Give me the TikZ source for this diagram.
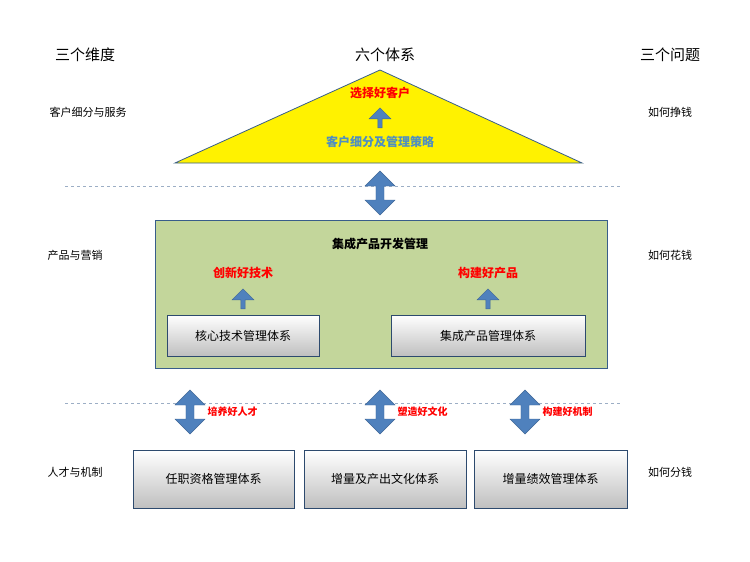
\documentclass[tikz,border=0pt]{standalone}
\usepackage{fontspec}
\setmainfont{Noto Sans CJK SC}
\usetikzlibrary{shapes.arrows}
\definecolor{frameblue}{HTML}{385D8A}
\definecolor{arrowblue}{HTML}{4F81BD}
\definecolor{boxgreen}{HTML}{C3D69B}
\definecolor{textblue}{HTML}{4F8FC0}
\begin{document}
\begin{tikzpicture}
[x=1pt,y=-1pt,
  headDecorate/.style={font=\fontsize{15}{15}\selectfont},
  sideDecorate/.style={font=\fontsize{11}{11}\selectfont},
  goalDecorate/.style={text=red,font=\bfseries\fontsize{12}{12}\selectfont},
  smallGoal/.style={text=red,font=\bfseries\fontsize{10}{10}\selectfont,anchor=west},
  upDecorate/.style={single arrow,shape border rotate=90,fill=arrowblue,draw=arrowblue!80!black,
    minimum height=20pt,minimum width=22pt,single arrow head extend=5pt,inner sep=1pt},
  bothDecorate/.style={double arrow,shape border rotate=90,fill=arrowblue,draw=arrowblue!80!black,
    minimum height=44pt,minimum width=30pt,double arrow head extend=6pt,inner sep=2pt},
  boxDecorate/.style={draw=frameblue!80!black,thick,top color=white,bottom color=black!25,
    font=\fontsize{12}{12}\selectfont},
  sepDecorate/.style={dashed,draw=frameblue!50,thin}]
\useasboundingbox (0,0) rectangle (750,562);
%% headers and side labels
\node[headDecorate] (dims) at (85,55) {三个维度};
\node[headDecorate] (systems) at (385,55) {六个体系};
\node[headDecorate] (questions) at (670,55) {三个问题};
\foreach \nodename/\x/\y/\txt in {
  lcust/88/112/客户细分与服务, lprod/75/255/产品与营销, ltal/75/472/人才与机制,
  rearn/670/112/如何挣钱, rspend/670/255/如何花钱, rshare/670/472/如何分钱}
{
  \node[sideDecorate] (\nodename) at (\x,\y) {\txt};
}
%% top triangle
\draw[fill=yellow,draw=frameblue,thick] (380,70) -- (582,163) -- (175,163) -- cycle;
\node[goalDecorate] (client) at (380,93) {选择好客户};
\node[upDecorate] (upclient) at (380,119) {};
\node[text=textblue,font=\bfseries\fontsize{12}{12}\selectfont] (segment) at (380,142) {客户细分及管理策略};
%% separators
\draw[sepDecorate] (65,186) -- (620,186);
\draw[sepDecorate] (65,403) -- (620,403);
\node[bothDecorate] (linktop) at (380,193) {};
%% middle block
\draw[fill=boxgreen,draw=frameblue,thick] (155,220) rectangle (607,368);
\node[font=\bfseries\fontsize{12}{12}\selectfont] (ipd) at (380,244) {集成产品开发管理};
\node[goalDecorate] (tech) at (243,273) {创新好技术};
\node[goalDecorate] (product) at (488,273) {构建好产品};
\node[upDecorate] (uptech) at (243,300) {};
\node[upDecorate] (upprod) at (488,300) {};
\node[boxDecorate,minimum width=152pt,minimum height=41pt] (core) at (243,335.5) {核心技术管理体系};
\node[boxDecorate,minimum width=194pt,minimum height=41pt] (integ) at (488,335.5) {集成产品管理体系};
%% bottom arrows and boxes
\foreach \nodename/\x/\txt in {talent/190/培养好人才, culture/380/塑造好文化, mech/525/构建好机制}
{
  \node[bothDecorate] (arr\nodename) at (\x,412) {};
  \node[smallGoal] (\nodename) at (\x+14,412) {\txt};
}
\node[boxDecorate,minimum width=161pt,minimum height=58pt] (qual) at (213.5,479) {任职资格管理体系};
\node[boxDecorate,minimum width=162pt,minimum height=58pt] (incr) at (385,479) {增量及产出文化体系};
\node[boxDecorate,minimum width=153pt,minimum height=58pt] (perf) at (550.5,479) {增量绩效管理体系};
\end{tikzpicture}
\end{document}
